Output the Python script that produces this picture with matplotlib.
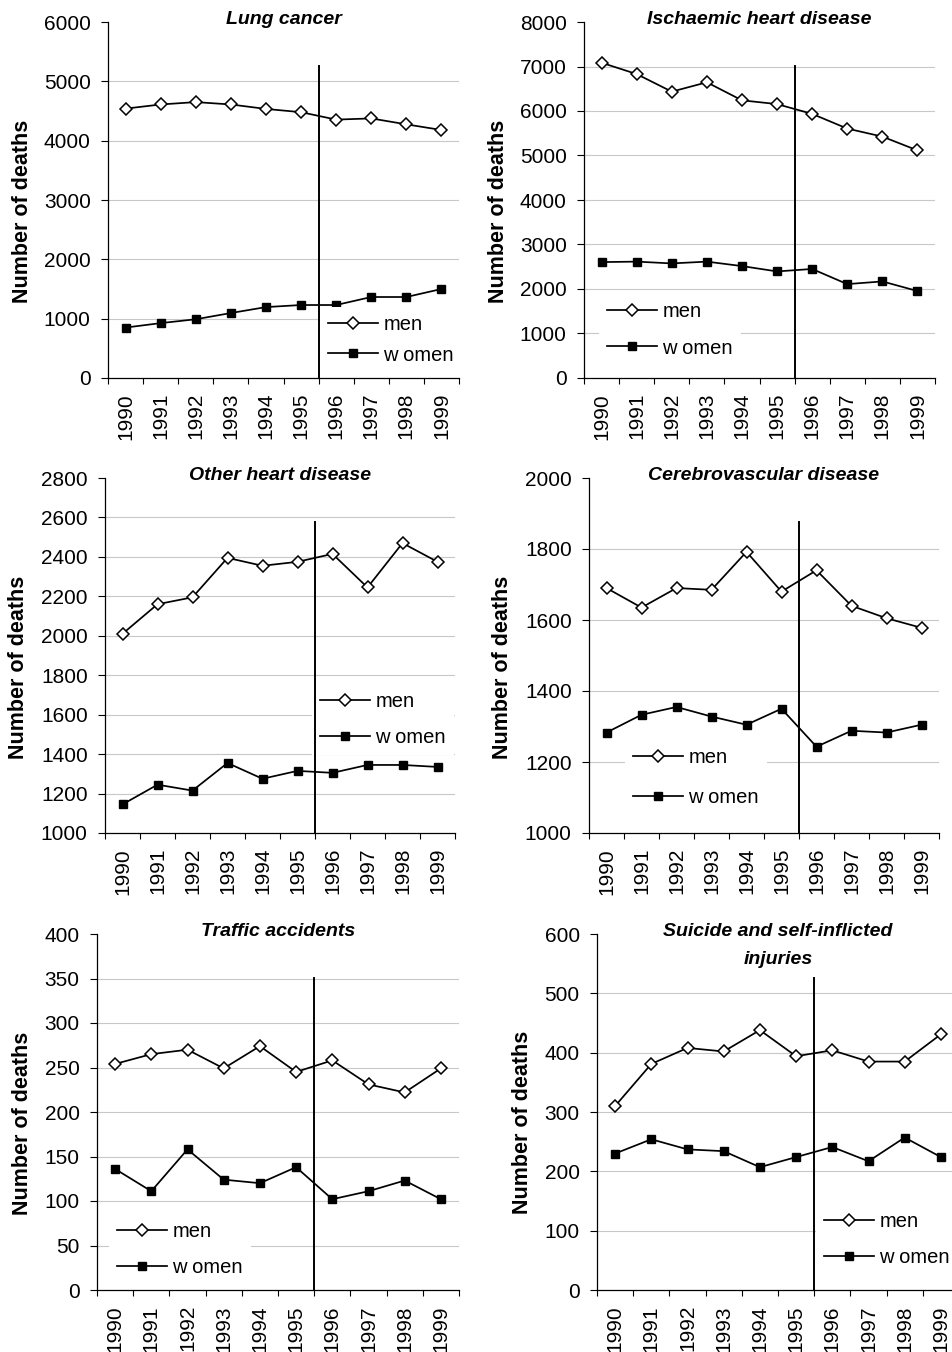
import matplotlib
matplotlib.use('Agg')
import matplotlib.pyplot as plt
import matplotlib.transforms as mtransforms
import numpy as np

plt.rcParams['font.family'] = ['Liberation Sans', 'DejaVu Sans']

years = ['1990', '1991', '1992', '1993', '1994', '1995', '1996', '1997', '1998', '1999']

lung_men = [4540, 4610, 4650, 4610, 4535, 4480, 4355, 4375, 4275, 4180]
lung_women = [850, 925, 990, 1095, 1195, 1230, 1230, 1365, 1365, 1500]

ihd_men = [7085, 6830, 6435, 6645, 6240, 6155, 5935, 5605, 5425, 5115]
ihd_women = [2605, 2615, 2575, 2615, 2515, 2395, 2450, 2110, 2170, 1955]

ohd_men = [2010, 2160, 2195, 2395, 2355, 2375, 2415, 2245, 2470, 2375]
ohd_women = [1145, 1245, 1215, 1355, 1275, 1315, 1305, 1345, 1345, 1335]

cvd_men = [1690, 1635, 1690, 1685, 1792, 1680, 1740, 1640, 1605, 1578]
cvd_women = [1283, 1333, 1355, 1328, 1305, 1350, 1243, 1288, 1283, 1305]

traffic_men = [254, 265, 270, 249, 274, 245, 258, 231, 222, 249]
traffic_women = [136, 111, 158, 124, 120, 138, 102, 111, 123, 102]

suicide_men = [310, 381, 408, 402, 438, 394, 404, 385, 385, 431]
suicide_women = [230, 254, 237, 234, 207, 224, 241, 217, 257, 224]

titles = ['Lung cancer', 'Ischaemic heart disease', 'Other heart disease',
          'Cerebrovascular disease', 'Traffic accidents',
          'Suicide and self-inflicted\ninjuries']
men_series = [lung_men, ihd_men, ohd_men, cvd_men, traffic_men, suicide_men]
women_series = [lung_women, ihd_women, ohd_women, cvd_women, traffic_women, suicide_women]
ylims = [(0, 6000), (0, 8000), (1000, 2800), (1000, 2000), (0, 400), (0, 600)]
ysteps = [1000, 1000, 200, 200, 50, 100]
legend_labels = ['men', 'w omen']
ylabel_text = 'Number of deaths'

# layout in pixels: (left, right, top, bottom)
W, H = 952, 1352
boxes = [(108, 459, 22, 378), (584, 935, 22, 378),
         (105, 455, 478, 833), (589, 939, 478, 833),
         (97, 459, 934, 1290), (597, 959, 934, 1290)]
# legend: handle start x, vertical center y, row spacing (px)
legs = [(328, 340, 30), (607, 330, 36), (320, 719.5, 36),
        (633, 777.5, 40), (117, 1249.7, 36), (824, 1239.7, 36)]
ylab_pos = [(22.5, 211), (498.5, 211), (18.3, 667.5), (502, 667.5),
            (22.5, 1123.5), (522, 1122.5)]

fig = plt.figure(figsize=(W / 100, H / 100), dpi=100)

leg_fs = 14.5
fs_px = leg_fs * 100 / 72
bpad = 0.4
title_fs = 14
title_line_px = 28

x = np.arange(len(years))
for i in range(6):
    l, r, t, b = boxes[i]
    ax = fig.add_axes([l / W, 1 - b / H, (r - l) / W, (b - t) / H])
    lo, hi = ylims[i]
    ax.set_xlim(-0.5, len(years) - 0.5)
    ax.set_ylim(lo, hi)
    yt = np.arange(lo, hi + ysteps[i] / 2, ysteps[i])
    ax.set_yticks(yt)
    ax.set_yticklabels([str(int(v)) for v in yt])
    ax.grid(axis='y', color='#c8c8c8', lw=0.8, zorder=0)
    gls = ax.get_ygridlines()
    gls[0].set_visible(False)
    gls[-1].set_visible(False)
    ax.set_axisbelow(True)

    ax.set_xticks(x)
    ax.set_xticklabels(years, rotation=90, fontsize=15)
    ax.set_xticks(np.arange(-0.5, len(years), 1.0), minor=True)
    ax.tick_params(axis='x', which='major', length=0, pad=10.8)
    ax.tick_params(axis='x', which='minor', length=4.3, width=0.8, direction='out')
    ax.tick_params(axis='y', which='major', length=5, width=0.8, direction='out',
                   pad=7.5, labelsize=15)
    for s in ['top', 'right']:
        ax.spines[s].set_visible(False)
    for s in ['left', 'bottom']:
        ax.spines[s].set_linewidth(0.9)
        ax.spines[s].set_color('black')

    ax.axvline(5.5, ymin=0, ymax=0.877, color='black', lw=1.4, zorder=6)

    ax.plot(x, men_series[i], color='black', lw=1.25, marker='D', ms=6.0,
            mfc='white', mec='black', mew=1.1, label=legend_labels[0], zorder=3,
            clip_on=False)
    ax.plot(x, women_series[i], color='black', lw=1.25, marker='s', ms=5.8,
            mfc='black', mec='black', label=legend_labels[1], zorder=3,
            clip_on=False)

    lx, ly, sp = legs[i]
    lx_box = lx - bpad * fs_px
    fx = (lx_box - l) / (r - l)
    fy = (b - ly) / (b - t)
    labelspacing = (sp - 0.94 * fs_px) / fs_px
    ax.legend(loc='center left', bbox_to_anchor=(fx, fy), fontsize=leg_fs,
              frameon=True, facecolor='white', edgecolor='none', framealpha=1,
              fancybox=False, borderpad=bpad, borderaxespad=0,
              handlelength=2.5, handletextpad=0.25, labelspacing=labelspacing)

    nlines = titles[i].count('\n') + 1
    dy = -(2 + title_line_px * (nlines - 1))
    off = mtransforms.offset_copy(ax.transAxes, fig=fig, x=0, y=dy, units='dots')
    ax.text(0.5, 1.0, titles[i], transform=off, ha='center', va='baseline',
            fontsize=title_fs, fontweight='bold', fontstyle='italic',
            linespacing=1.83, zorder=7)

    px, py = ylab_pos[i]
    fig.text(px / W, 1 - py / H, ylabel_text, rotation=90, ha='center', va='center',
             fontsize=15.5, fontweight='bold')

fig.savefig('out.png', dpi=100)
